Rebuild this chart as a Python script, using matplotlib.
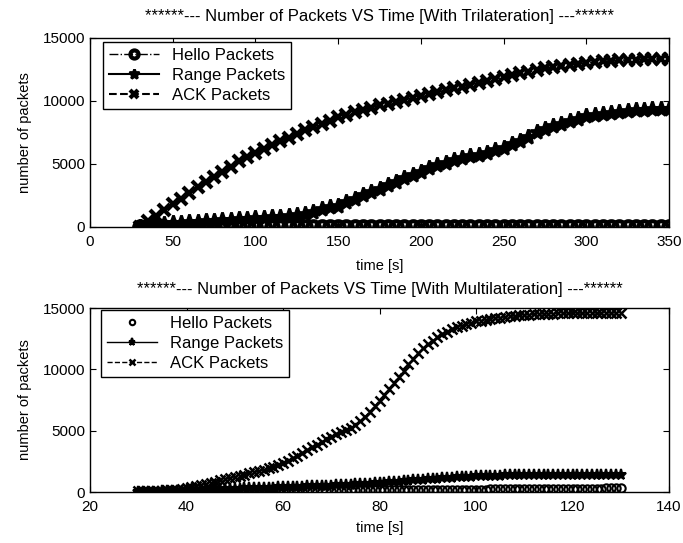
import numpy as np
import matplotlib
matplotlib.use("Agg")
import matplotlib.pyplot as plt

plt.rcParams['font.family'] = ['Liberation Sans', 'DejaVu Sans']

# ---------------- Top chart (Trilateration) ----------------
t_top = np.arange(30, 351, 5)
hello_top = [0] * 65
range_top = [0, 100, 200, 250, 300, 340, 380, 415, 450, 485,
             520, 560, 600, 640, 680, 720, 760, 800, 850, 920,
             1000, 1200, 1400, 1550, 1700, 1950, 2200, 2500, 2800, 3050,
             3300, 3600, 3900, 4150, 4400, 4650, 4900, 5100, 5300, 5450,
             5600, 5750, 5900, 6100, 6300, 6550, 6800, 7150, 7500, 7750,
             8000, 8200, 8400, 8600, 8800, 8900, 9000, 9080, 9150, 9200,
             9250, 9300, 9350, 9380, 9400]
ack_top = [0, 450, 900, 1350, 1800, 2250, 2700, 3150, 3600, 4000,
           4400, 4800, 5200, 5550, 5900, 6200, 6500, 6800, 7100, 7400,
           7700, 7950, 8200, 8450, 8700, 8900, 9100, 9300, 9480, 9650,
           9800, 9950, 10100, 10250, 10400, 10550, 10700, 10850, 11000, 11150,
           11300, 11450, 11600, 11750, 11900, 12050, 12200, 12330, 12460, 12580,
           12690, 12790, 12880, 12960, 13030, 13090, 13140, 13180, 13220, 13250,
           13280, 13300, 13320, 13340, 13350]

# ---------------- Bottom chart (Multilateration) ----------------
t_bot = np.arange(30, 131, 1)
hello_bot = [0, 5, 10, 15, 20, 25, 28, 30, 32, 35,
             38, 40, 42, 45, 48, 50, 52, 55, 58, 60,
             62, 64, 66, 68, 70, 72, 74, 76, 78, 80,
             82, 85, 88, 91, 94, 97, 100, 103, 106, 109,
             112, 115, 118, 121, 124, 127, 130, 133, 136, 140,
             143, 146, 149, 152, 155, 158, 161, 164, 167, 170,
             173, 176, 179, 182, 185, 188, 190, 192, 194, 196,
             198, 200, 202, 204, 206, 208, 210, 212, 214, 216,
             218, 220, 222, 224, 226, 228, 230, 232, 234, 236,
             238, 240, 245, 250, 260, 270, 280, 300, 320, 340, 350]
range_bot = [0, 10, 20, 30, 40, 50, 65, 80, 95, 110,
             120, 135, 150, 165, 180, 200, 215, 230, 245, 260,
             270, 282, 294, 306, 318, 330, 342, 354, 366, 378,
             390, 402, 414, 426, 438, 450, 464, 478, 492, 506,
             520, 540, 560, 580, 600, 620, 644, 668, 692, 716,
             740, 768, 796, 824, 852, 880, 910, 940, 970, 1000,
             1030, 1058, 1086, 1114, 1142, 1170, 1192, 1214, 1236, 1258,
             1280, 1292, 1304, 1316, 1328, 1340, 1346, 1352, 1358, 1364,
             1370, 1372, 1374, 1376, 1378, 1380, 1382, 1384, 1386, 1388,
             1390, 1392, 1394, 1396, 1398, 1400, 1400, 1400, 1400, 1400, 1400]
ack_bot = [50, 60, 70, 80, 100, 120, 140, 170, 200, 250,
           300, 380, 460, 550, 640, 740, 840, 940, 1040, 1140,
           1240, 1330, 1420, 1510, 1600, 1700, 1800, 1920, 2050, 2200,
           2370, 2560, 2760, 2970, 3190, 3410, 3630, 3850, 4070, 4290,
           4500, 4700, 4880, 5050, 5250, 5500, 5800, 6150, 6550, 7000,
           7450, 7900, 8400, 8900, 9400, 9900, 10400, 10850, 11300, 11700,
           12050, 12350, 12600, 12850, 13050, 13250, 13420, 13570, 13700, 13810,
           13900, 13980, 14050, 14110, 14170, 14220, 14270, 14310, 14350, 14390,
           14420, 14450, 14480, 14500, 14520, 14540, 14550, 14560, 14560, 14570,
           14570, 14580, 14580, 14580, 14590, 14590, 14590, 14600, 14600, 14600, 14600]

labels = ['Hello Packets', 'Range Packets', 'ACK Packets']
top_title = '******--- Number of Packets VS Time [With Trilateration] ---******'
bot_title = '******--- Number of Packets VS Time [With Multilateration] ---******'

fig = plt.figure(figsize=(6.83, 5.43), dpi=100)
W, H = 683, 543
def axrect(x0, y0, x1, y1):
    return [x0 / W, 1 - y1 / H, (x1 - x0) / W, (y1 - y0) / H]

ax1 = fig.add_axes(axrect(90, 38, 669, 227))
ax2 = fig.add_axes(axrect(90, 308, 669, 492))

k = 'black'
ax1.plot(t_top, hello_top, color=k, ls='-.', marker='o', ms=9, mfc='none', mew=3, lw=1, label=labels[0])
ax1.plot(t_top, range_top, color=k, ls='-', marker='*', ms=11, mew=2, lw=1.5, label=labels[1])
ax1.plot(t_top, ack_top, color=k, ls='--', marker='x', ms=9, mew=3, lw=1.5, label=labels[2])

ax2.plot(t_bot, hello_bot, color=k, ls='none', marker='o', ms=6, mfc='none', mew=1.5, label=labels[0])
ax2.plot(t_bot, range_bot, color=k, ls='-', marker='*', ms=8, mew=1.5, lw=1, label=labels[1])
ax2.plot(t_bot, ack_bot, color=k, ls='--', marker='x', ms=7, mew=1.8, lw=1, label=labels[2])

for ax, xlim, xt, title, leg_anchor, tpad, xlp in [
        (ax1, (0, 350), np.arange(0, 351, 50), top_title, (0.022, 0.979), 12, 7),
        (ax2, (20, 140), np.arange(20, 141, 20), bot_title, (0.019, 0.989), 10, 5)]:
    ax.set_xlim(*xlim)
    ax.set_ylim(0, 15000)
    ax.set_xticks(xt)
    ax.set_yticks([0, 5000, 10000, 15000])
    ax.tick_params(direction='in', top=True, right=True, labelsize=11, length=4, width=0.8)
    ax.tick_params(axis='x', pad=6)
    for s in ax.spines.values():
        s.set_linewidth(1.0)
    ax.set_xlabel('time [s]', fontsize=10.5, labelpad=xlp)
    ax.set_ylabel('number of packets', fontsize=10.5, labelpad=8)
    ax.set_title(title, fontsize=12, pad=tpad)
    leg = ax.legend(loc='upper left', bbox_to_anchor=leg_anchor, fontsize=12,
                    fancybox=False, edgecolor='black', framealpha=1,
                    borderaxespad=0, handlelength=3.0, labelspacing=0.3,
                    borderpad=0.35, handletextpad=0.8, markerscale=0.65)
    leg.get_frame().set_linewidth(1.0)

fig.savefig('out.png', dpi=100)
